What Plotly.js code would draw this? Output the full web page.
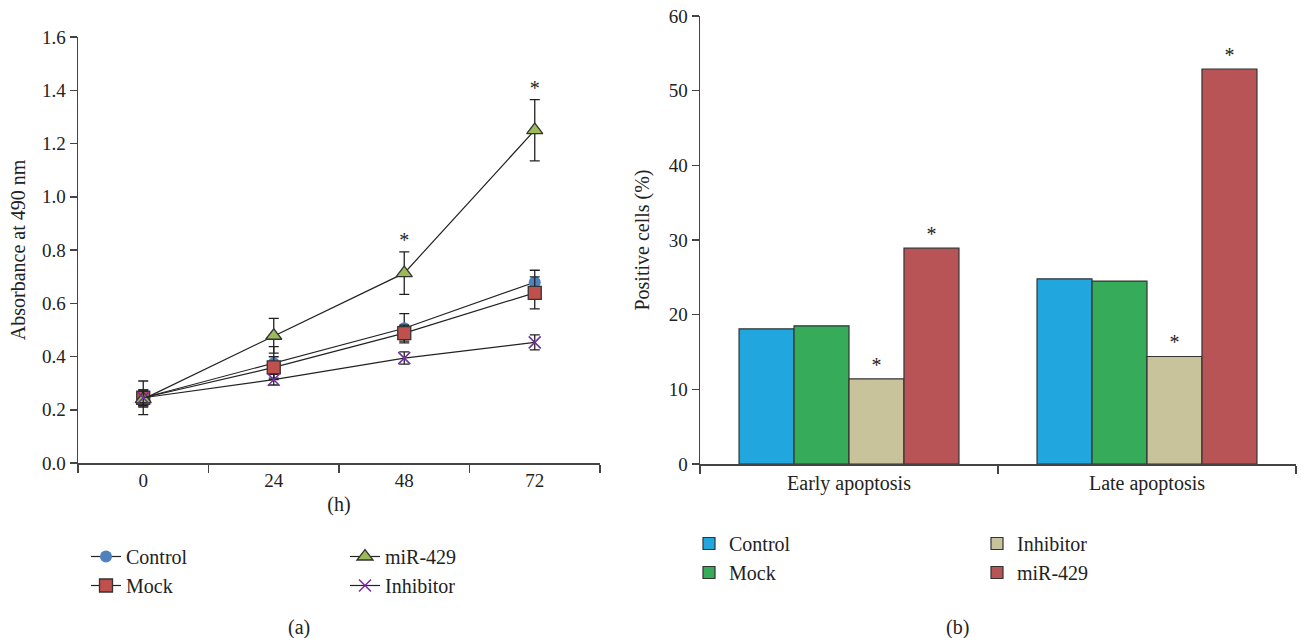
<!DOCTYPE html>
<html>
<head>
<meta charset="utf-8">
<script src="https://cdn.plot.ly/plotly-3.0.1.min.js"></script>
<style>html,body{margin:0;padding:0;background:#fff;}#chart{width:1301px;height:638px;}</style>
</head>
<body>
<div id="chart"></div>
<script>
// ---- Panel (a): absorbance over time ----
const hours = ["0", "24", "48", "72"];
const controlAbs = [0.245, 0.375, 0.506, 0.679];
const controlErr = [0.063, 0.062, 0.055, 0.045];
const mockAbs = [0.245, 0.359, 0.488, 0.639];
const mockErr = [0.03, 0.04, 0.03, 0.06];
const mirAbs = [0.24, 0.478, 0.713, 1.25];
const mirErr = [0.03, 0.065, 0.08, 0.115];
const inhibitorAbs = [0.245, 0.313, 0.394, 0.453];
const inhibitorErr = [0.03, 0.02, 0.023, 0.028];
const mirStars = ["", "", "*", "*"];

// ---- Panel (b): apoptosis ----
const phases = ["Early apoptosis", "Late apoptosis"];
const controlPct = [18.1, 24.8];
const mockPct = [18.5, 24.5];
const inhibitorPct = [11.4, 14.4];
const mirPct = [28.9, 52.9];
const inhibitorStars = ["*", "*"];
const mirPctStars = ["*", "*"];

const SERIF = "Liberation Serif";
const INK = "#222";
const errStyle = (arr) => ({type: "data", array: arr, visible: true, color: INK, thickness: 1.3, width: 5});

const traces = [
  {x: hours, y: controlAbs, name: "Control", type: "scatter", mode: "lines+markers",
   line: {color: INK, width: 1.2}, marker: {symbol: "circle", size: 12, color: "#4f81bd"},
   error_y: errStyle(controlErr), xaxis: "x", yaxis: "y", legend: "legend"},
  {x: hours, y: mockAbs, name: "Mock", type: "scatter", mode: "lines+markers",
   line: {color: INK, width: 1.2}, marker: {symbol: "square", size: 13, color: "#c0504d", line: {color: "#333", width: 1.3}},
   error_y: errStyle(mockErr), xaxis: "x", yaxis: "y", legend: "legend"},
  {x: hours, y: mirAbs, name: "miR-429", type: "scatter", mode: "lines+markers",
   line: {color: INK, width: 1.2}, marker: {symbol: "triangle-up", size: 14, color: "#9bbb59", line: {color: "#333", width: 1.3}},
   error_y: errStyle(mirErr), xaxis: "x", yaxis: "y", legend: "legend2"},
  {x: hours, y: inhibitorAbs, name: "Inhibitor", type: "scatter", mode: "lines+markers",
   line: {color: INK, width: 1.2}, marker: {symbol: "x-thin-open", size: 12, color: "#7030a0", line: {color: "#7030a0", width: 1.5}},
   error_y: errStyle(inhibitorErr), xaxis: "x", yaxis: "y", legend: "legend2"},
  {x: hours, y: mirAbs.map((v, i) => v + mirErr[i]), text: mirStars, type: "scatter", mode: "text",
   textposition: "top center", textfont: {family: SERIF, size: 20, color: INK},
   showlegend: false, hoverinfo: "skip", xaxis: "x", yaxis: "y", cliponaxis: false},

  {x: phases, y: controlPct, name: "Control", type: "bar", marker: {color: "#21a6de", line: {color: "#333", width: 1.2}},
   xaxis: "x2", yaxis: "y2", legend: "legend3"},
  {x: phases, y: mockPct, name: "Mock", type: "bar", marker: {color: "#36ab5a", line: {color: "#333", width: 1.2}},
   xaxis: "x2", yaxis: "y2", legend: "legend3"},
  {x: phases, y: inhibitorPct, name: "Inhibitor", type: "bar", marker: {color: "#c8c39a", line: {color: "#333", width: 1.2}},
   text: inhibitorStars, textposition: "outside", textfont: {family: SERIF, size: 20, color: INK}, cliponaxis: false,
   xaxis: "x2", yaxis: "y2", legend: "legend4"},
  {x: phases, y: mirPct, name: "miR-429", type: "bar", marker: {color: "#b85456", line: {color: "#333", width: 1.2}},
   text: mirPctStars, textposition: "outside", textfont: {family: SERIF, size: 20, color: INK}, cliponaxis: false,
   xaxis: "x2", yaxis: "y2", legend: "legend4"}
];

const axisCommon = {showline: true, linecolor: "#444", linewidth: 1.5, ticks: "outside", tickcolor: "#444",
  tickwidth: 1.5, showgrid: false, zeroline: false, tickfont: {family: SERIF, size: 19, color: INK}};
const legendCommon = {bgcolor: "rgba(0,0,0,0)", font: {family: SERIF, size: 20, color: INK},
  orientation: "v", xanchor: "left", yanchor: "top", tracegroupgap: 0, itemclick: false};
const titleFont = {family: SERIF, size: 20, color: INK};

const layout = {
  width: 1301, height: 638,
  margin: {l: 0, r: 0, t: 0, b: 0},
  paper_bgcolor: "#fff", plot_bgcolor: "#fff",
  font: {family: SERIF, color: INK},
  barmode: "group", bargap: 0.262, bargroupgap: 0,
  xaxis: Object.assign({}, axisCommon, {domain: [78/1301, 600/1301], type: "category", tickson: "boundaries",
    range: [-0.5, 3.5], autorange: false, ticklen: 8, anchor: "y",
    title: {text: "(h)", font: titleFont, standoff: 6}}),
  yaxis: Object.assign({}, axisCommon, {domain: [175/638, 601/638], range: [0, 1.6], dtick: 0.2, tickformat: ".1f",
    ticklen: 7, anchor: "x", title: {text: "Absorbance at 490 nm", font: titleFont, standoff: 11}}),
  xaxis2: Object.assign({}, axisCommon, {domain: [700/1301, 1296/1301], type: "category", tickson: "boundaries",
    ticklen: 8, anchor: "y2", tickfont: {family: SERIF, size: 20, color: INK}}),
  yaxis2: Object.assign({}, axisCommon, {domain: [174/638, 622/638], range: [0, 60], dtick: 10,
    ticklen: 7, anchor: "x2", title: {text: "Positive cells (%)", font: titleFont, standoff: 13}}),
  legend: Object.assign({}, legendCommon, {x: 86/1301, y: 1 - 537/638}),
  legend2: Object.assign({}, legendCommon, {x: 345/1301, y: 1 - 537/638}),
  legend3: Object.assign({}, legendCommon, {x: 689/1301, y: 1 - 524/638}),
  legend4: Object.assign({}, legendCommon, {x: 977/1301, y: 1 - 524/638}),
  annotations: [
    {text: "(a)", xref: "paper", yref: "paper", x: 299/1301, y: 1 - 627/638, xanchor: "center", yanchor: "middle",
     showarrow: false, font: titleFont},
    {text: "(b)", xref: "paper", yref: "paper", x: 957/1301, y: 1 - 627/638, xanchor: "center", yanchor: "middle",
     showarrow: false, font: titleFont}
  ],
  showlegend: true
};

Plotly.newPlot("chart", traces, layout, {displayModeBar: false, staticPlot: true});
</script>
</body>
</html>
